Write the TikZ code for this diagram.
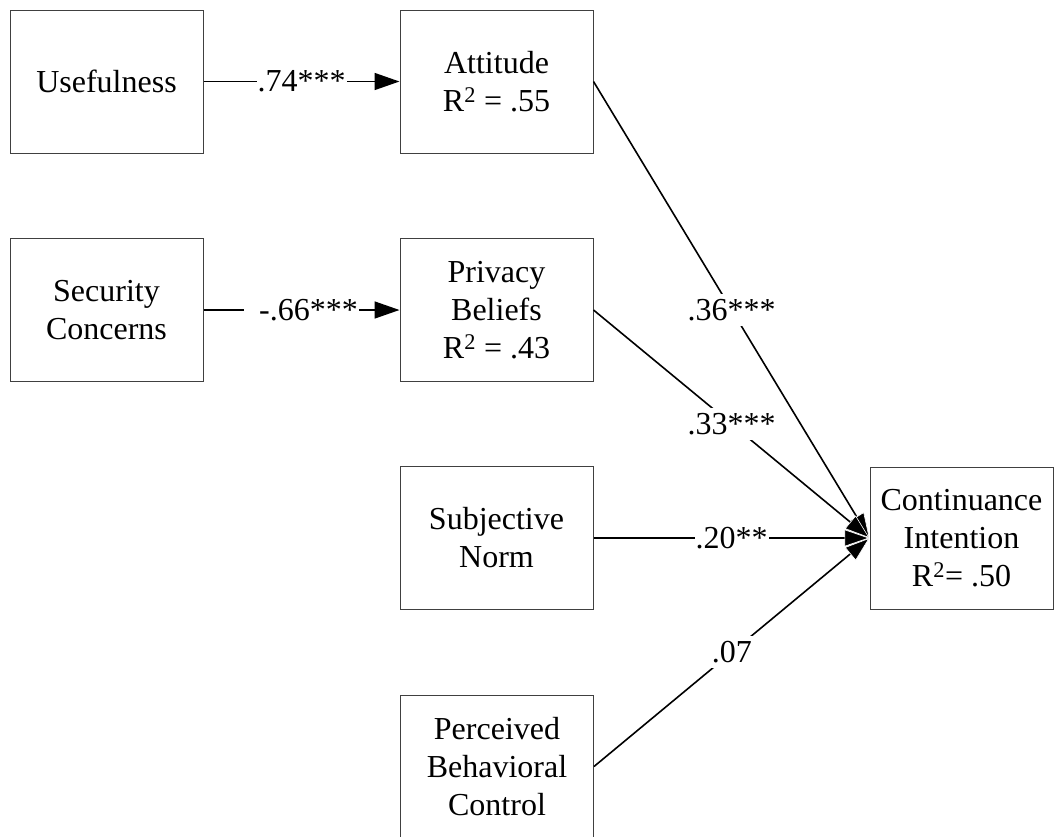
\documentclass[tikz,border=0pt]{standalone}
\usepackage{fontspec}
\setmainfont{Liberation Serif}
\usetikzlibrary{arrows.meta}
\tikzset{
  box/.style={draw=black!75, line width=1pt, minimum width=193pt, minimum height=143pt, inner sep=0pt, align=center, font=\fontsize{32}{38}\selectfont},
  conn/.style={line width=1.6pt, -{Triangle[length=25pt,width=17pt]}},
  convg/.style={line width=1.6pt, -{Triangle[length=25pt,width=17pt,color=white,fill=black,line width=0.6pt]}},
  lbl/.style={fill=white, inner xsep=1pt, inner ysep=5pt, font=\fontsize{32}{38}\selectfont},
}
\begin{document}
\begin{tikzpicture}[x=1pt,y=-1pt]
\useasboundingbox (0,0) rectangle (1054,836);
\node[box] (U) at (106.5,81.5) {Usefulness};
\node[box] (A) at (496.5,81.5) {Attitude\\R\textsuperscript{2} = .55};
\node[box] (S) at (106.5,310) {Security\\Concerns};
\node[box] (P) at (496.5,310) {Privacy\\Beliefs\\R\textsuperscript{2} = .43};
\node[box] (SN) at (496.5,538) {Subjective\\Norm};
\node[box, minimum width=183pt, minimum height=142pt] (CI) at (961.5,538) {Continuance\\Intention\\R\textsuperscript{2}= .50};
\node[box] (PBC) at (497,766.5) {Perceived\\Behavioral\\Control};

\draw[conn] (U.east) -- node[lbl] {.74***} (A.west);
\draw[conn] (S.east) -- node[lbl] {\hspace*{14pt}-.66***} (P.west);
\draw[convg] (A.east) -- node[lbl] {.36***} (CI.west);
\draw[convg] (P.east) -- node[lbl] {.33***} (CI.west);
\draw[convg] (SN.east) -- node[lbl] {.20**} (CI.west);
\draw[convg] (PBC.east) -- node[lbl] {.07} (CI.west);
\end{tikzpicture}
\end{document}
